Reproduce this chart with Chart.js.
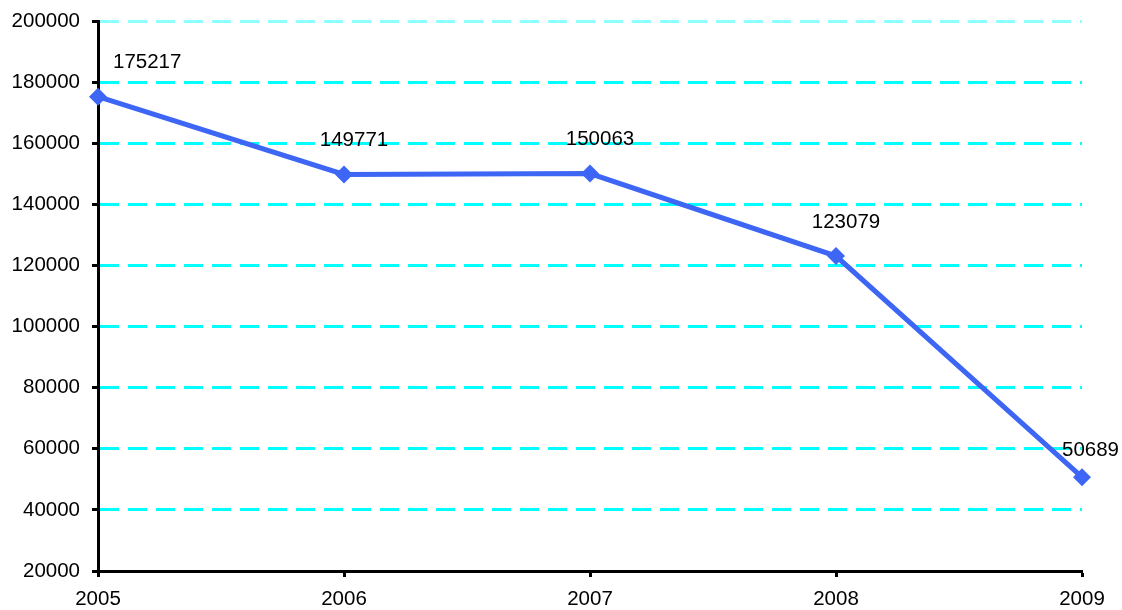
<!DOCTYPE html>
<html>
<head>
<meta charset="utf-8">
<script src="https://cdn.jsdelivr.net/npm/chart.js@4/dist/chart.umd.min.js"></script>
<style>
html,body{margin:0;padding:0;background:#fff;}
#wrap{width:1122px;height:610px;position:relative;}
</style>
</head>
<body>
<div id="wrap"><canvas id="c" width="1122" height="610"></canvas></div>
<script>
const categories = ['2005', '2006', '2007', '2008', '2009'];
const values = [175217, 149771, 150063, 123079, 50689];
const yTicks = [20000, 40000, 60000, 80000, 100000, 120000, 140000, 160000, 180000, 200000];

const FONT = 'Liberation Sans, Arial, sans-serif';
const LINE = '#3d66f5';

const labelPlugin = {
  id: 'pointLabels',
  afterDatasetsDraw(chart) {
    const ctx = chart.ctx;
    const meta = chart.getDatasetMeta(0);
    const area = chart.chartArea;
    ctx.save();
    ctx.font = '20.5px ' + FONT;
    ctx.fillStyle = '#000';
    ctx.textAlign = 'center';
    ctx.textBaseline = 'middle';
    meta.data.forEach((pt, i) => {
      const txt = String(values[i]);
      const w = ctx.measureText(txt).width;
      let cx = pt.x + 10;
      if (cx - w / 2 < area.left + 15) cx = area.left + 15 + w / 2;
      if (cx + w / 2 > chart.width - 3) cx = chart.width - 3 - w / 2;
      let cy = pt.y - 34;
      if (i === values.length - 1) cy = pt.y - 27;
      ctx.fillText(txt, cx, cy);
    });
    ctx.restore();
  }
};

new Chart(document.getElementById('c'), {
  type: 'line',
  data: {
    labels: categories,
    datasets: [{
      data: values,
      borderColor: LINE,
      backgroundColor: LINE,
      borderWidth: 5,
      tension: 0,
      pointStyle: 'rectRot',
      pointRadius: 9,
      pointHoverRadius: 9,
      pointBorderWidth: 0,
      clip: false
    }]
  },
  options: {
    responsive: false,
    animation: false,
    events: [],
    layout: { padding: { left: 0, right: 40, top: 21, bottom: 0 } },
    plugins: { legend: { display: false }, tooltip: { enabled: false } },
    scales: {
      x: {
        type: 'category',
        offset: false,
        grid: {
          display: true,
          drawOnChartArea: false,
          drawTicks: true,
          tickLength: 6,
          tickColor: '#000',
          tickWidth: 3
        },
        border: { display: true, color: '#000', width: 3 },
        ticks: { color: '#000', font: { family: FONT, size: 20.5 }, padding: 10, maxRotation: 0 },
        afterFit(scale) {
          scale.height = 39;
          scale.paddingLeft = 0; scale.paddingRight = 0;
        }
      },
      y: {
        min: 20000,
        max: 200000,
        afterBuildTicks(scale) { scale.ticks = yTicks.map(v => ({ value: v })); },
        grid: {
          color: ctx => ctx.tick && ctx.tick.value === 200000 ? 'rgba(0,255,255,0.45)' : '#00ffff',
          lineWidth: 3,
          drawTicks: true,
          tickLength: 6,
          tickColor: '#000',
          tickWidth: 3,
          tickBorderDash: [],
        },
        border: { display: true, color: '#000', width: 3, dash: [19, 9] },
        ticks: {
          color: '#000',
          font: { family: FONT, size: 20.5 },
          padding: 12,
          callback: v => String(v)
        },
        afterFit(scale) {
          scale.width = 98;
          scale.paddingTop = 0; scale.paddingBottom = 0;
        }
      }
    }
  },
  plugins: [labelPlugin]
});
</script>
</body>
</html>
